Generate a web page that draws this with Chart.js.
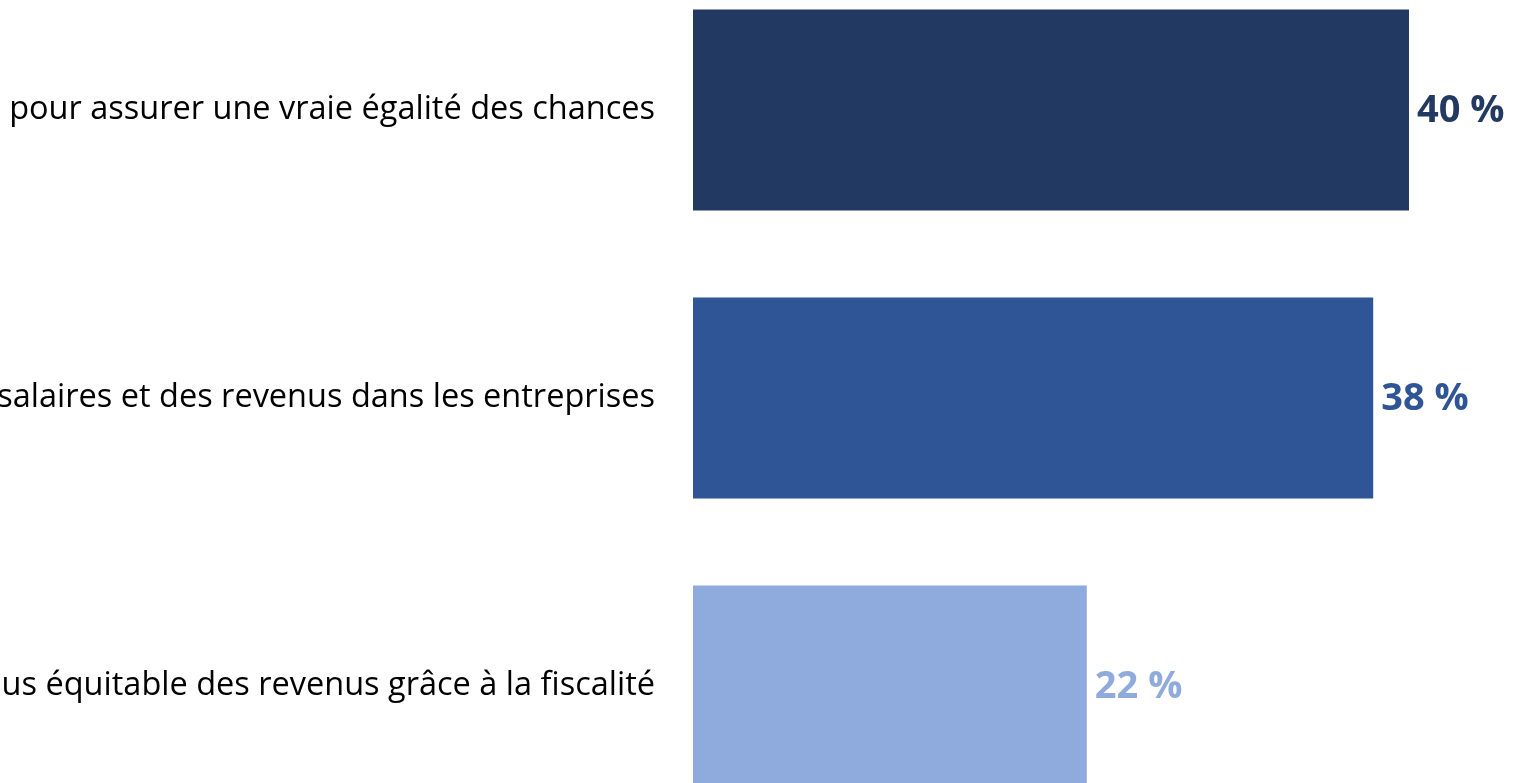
<!DOCTYPE html>
<html>
<head>
<meta charset="utf-8">
<script src="https://cdn.jsdelivr.net/npm/chart.js"></script>
<style>
  html, body { margin: 0; padding: 0; background: #fff; overflow: hidden; }
  #chart { position: absolute; left: 0; top: -34px; }
</style>
</head>
<body>
<canvas id="chart" width="1516" height="864"></canvas>
<script>
// chart data
const categories = [
  "Agir sur l'éducation et la formation pour assurer une vraie égalité des chances",
  "Réduire les écarts de salaires et des revenus dans les entreprises",
  "Une répartition plus équitable des revenus grâce à la fiscalité"
];
const values = [40, 38, 22];
const barColors = ["#223962", "#2F5597", "#8FAADC"];

// draws "40 %" style labels at the end of each bar
const valueLabels = {
  id: 'valueLabels',
  afterDatasetsDraw(chart) {
    const ctx = chart.ctx;
    const meta = chart.getDatasetMeta(0);
    ctx.save();
    ctx.font = 'bold 38px "Open Sans"';
    ctx.textAlign = 'left';
    ctx.textBaseline = 'middle';
    meta.data.forEach((bar, i) => {
      ctx.fillStyle = barColors[i];
      ctx.fillText(values[i] + ' %', bar.x + 8, bar.y + 1);
    });
    ctx.restore();
  }
};

new Chart(document.getElementById('chart'), {
  type: 'bar',
  data: {
    labels: categories,
    datasets: [{
      data: values,
      backgroundColor: barColors,
      borderWidth: 0,
      barPercentage: 0.698,
      categoryPercentage: 1
    }]
  },
  options: {
    indexAxis: 'y',
    responsive: false,
    devicePixelRatio: 1,
    animation: false,
    layout: { padding: { left: 0, right: 107, top: 0, bottom: 0 } },
    plugins: { legend: { display: false }, tooltip: { enabled: false } },
    scales: {
      x: { display: false, min: 0, max: 40 },
      y: {
        grid: { display: false },
        border: { display: false },
        ticks: {
          color: '#000',
          padding: 30,
          font: { family: '"Open Sans"', size: 32.5 }
        },
        afterFit(scale) {
          scale.width = 693;
          scale.paddingTop = 0;
          scale.paddingBottom = 0;
        }
      }
    }
  },
  plugins: [valueLabels]
});
</script>
</body>
</html>
